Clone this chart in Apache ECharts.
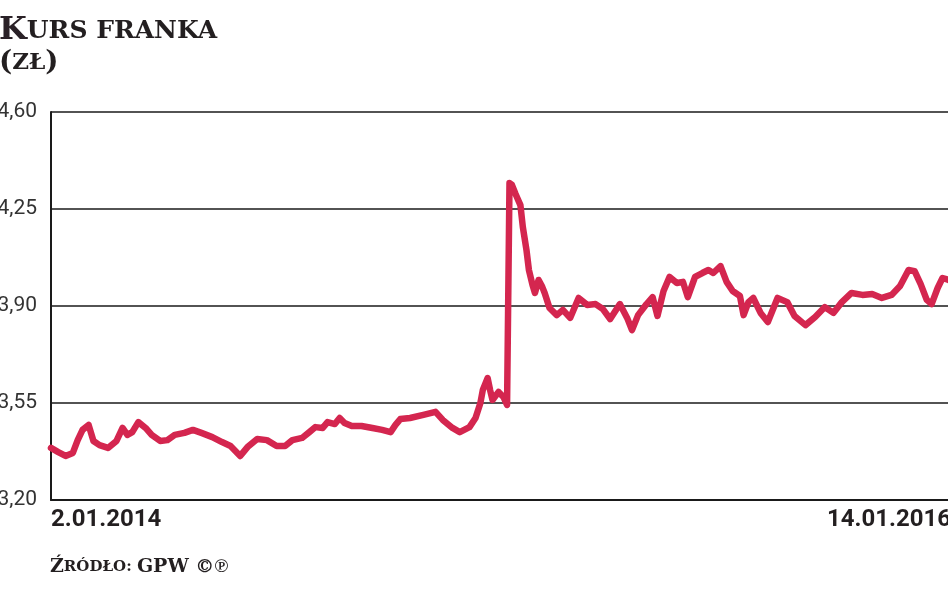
<!DOCTYPE html>
<html>
<head>
<meta charset="utf-8">
<script src="https://cdn.jsdelivr.net/npm/echarts@6/dist/echarts.min.js"></script>
<style>
html,body{margin:0;padding:0;background:#fff;}
#chart{width:948px;height:593px;}
</style>
</head>
<body>
<div id="chart"></div>
<script>
// Days since 2.01.2014 (x) and CHF/PLN rate (y)
const days = [0,6,12,18,22,26,31,35,40,47,54,59,63,67,72,78,83,90,96,102,110,117,124,133,141,148,156,162,170,178,186,193,199,207,213,218,224,228,234,238,242,248,256,265,273,280,284,288,296,307,317,323,331,337,345,350,354,356,360,362,364,369,373,376,377,378,380,383,387,389,392,394,397,399,402,405,407,411,417,422,428,435,442,449,455,461,469,475,479,484,491,496,500,505,510,516,521,525,531,537,542,546,552,557,562,568,571,575,579,585,591,599,607,613,622,630,638,645,652,660,669,677,685,693,700,707,712,717,722,726,731,735,740,742];
const rates = [3.388,3.373,3.359,3.370,3.416,3.453,3.471,3.413,3.398,3.388,3.413,3.460,3.435,3.445,3.481,3.460,3.435,3.413,3.416,3.435,3.442,3.453,3.442,3.427,3.409,3.395,3.359,3.391,3.420,3.416,3.395,3.395,3.416,3.424,3.445,3.463,3.460,3.481,3.474,3.496,3.478,3.467,3.467,3.460,3.453,3.445,3.471,3.492,3.496,3.507,3.518,3.489,3.460,3.445,3.463,3.496,3.550,3.597,3.640,3.597,3.561,3.590,3.572,3.543,3.550,4.344,4.337,4.304,4.264,4.185,4.102,4.030,3.976,3.947,3.994,3.969,3.947,3.893,3.867,3.886,3.857,3.929,3.904,3.907,3.889,3.853,3.907,3.857,3.813,3.867,3.907,3.932,3.864,3.954,4.005,3.983,3.987,3.932,4.005,4.019,4.030,4.019,4.044,3.987,3.954,3.936,3.867,3.914,3.929,3.875,3.842,3.929,3.914,3.864,3.831,3.860,3.896,3.875,3.914,3.947,3.940,3.943,3.929,3.940,3.972,4.030,4.026,3.979,3.922,3.907,3.965,4.001,3.994,3.990];
const yTicks = [3.20, 3.55, 3.90, 4.25, 4.60];
const xTickLabels = ['2.01.2014', '14.01.2016'];
const xTickDays = [0, 742];

const seriesData = days.map((d, i) => [d, rates[i]]);

const SERIF = '"DejaVu Serif", serif';

const chart = echarts.init(document.getElementById('chart'), null, {renderer: 'canvas'});
chart.setOption({
  backgroundColor: '#fff',
  animation: false,
  title: {
    text: '{k|K}{s|URS FRANKA}\n{p|(}{z|ZŁ}{p|)}',
    left: -6,
    top: 10,
    textStyle: {
      rich: {
        k: {fontFamily: SERIF, fontWeight: 'bold', fontSize: 32, color: '#2a2127', lineHeight: 32},
        s: {fontFamily: SERIF, fontWeight: 'bold', fontSize: 25, color: '#231f20', lineHeight: 32},
        p: {fontFamily: SERIF, fontSize: 28, color: '#231f20', lineHeight: 32},
        z: {fontFamily: SERIF, fontSize: 23, color: '#231f20', lineHeight: 32}
      }
    }
  },
  graphic: [{
    type: 'text',
    left: 50,
    top: 558,
    style: {
      text: '{a|Ź}{b|RÓDŁO: }{a|GPW ©℗}',
      rich: {
        a: {fontFamily: SERIF, fontWeight: 'bold', fontSize: 19, fill: '#231f20'},
        b: {fontFamily: SERIF, fontWeight: 'bold', fontSize: 15, fill: '#231f20'}
      }
    }
  }],
  grid: {left: 51, top: 112, right: -3, bottom: 93, containLabel: false, outerBoundsMode: 'none'},
  xAxis: {
    type: 'value',
    min: xTickDays[0],
    max: xTickDays[1],
    interval: xTickDays[1] - xTickDays[0],
    axisLine: {show: true, onZero: false, lineStyle: {color: '#1a1a1a', width: 2}},
    axisTick: {show: false},
    splitLine: {show: false},
    axisLabel: {
      show: true,
      margin: 8,
      fontFamily: 'Roboto',
      fontWeight: 'bold',
      fontSize: 24,
      color: '#231f20',
      alignMinLabel: 'left',
      alignMaxLabel: 'right',
      formatter: function (v) {
        const idx = xTickDays.indexOf(v);
        return idx >= 0 ? xTickLabels[idx] : '';
      }
    }
  },
  yAxis: {
    type: 'value',
    min: yTicks[0],
    max: yTicks[yTicks.length - 1],
    axisLine: {show: true, lineStyle: {color: '#1a1a1a', width: 2}},
    axisTick: {show: false, customValues: yTicks},
    splitLine: {show: true, lineStyle: {color: '#1a1a1a', width: 1.5}},
    axisLabel: {
      customValues: yTicks,
      margin: 14,
      fontFamily: 'Roboto',
      fontSize: 21,
      color: '#333',
      formatter: function (v) { return v.toFixed(2).replace('.', ','); }
    }
  },
  series: [{
    type: 'line',
    data: seriesData,
    showSymbol: false,
    symbol: 'none',
    lineStyle: {color: '#d4264f', width: 6.5, join: 'round', cap: 'round'},
    z: 5
  }]
});
</script>
</body>
</html>
